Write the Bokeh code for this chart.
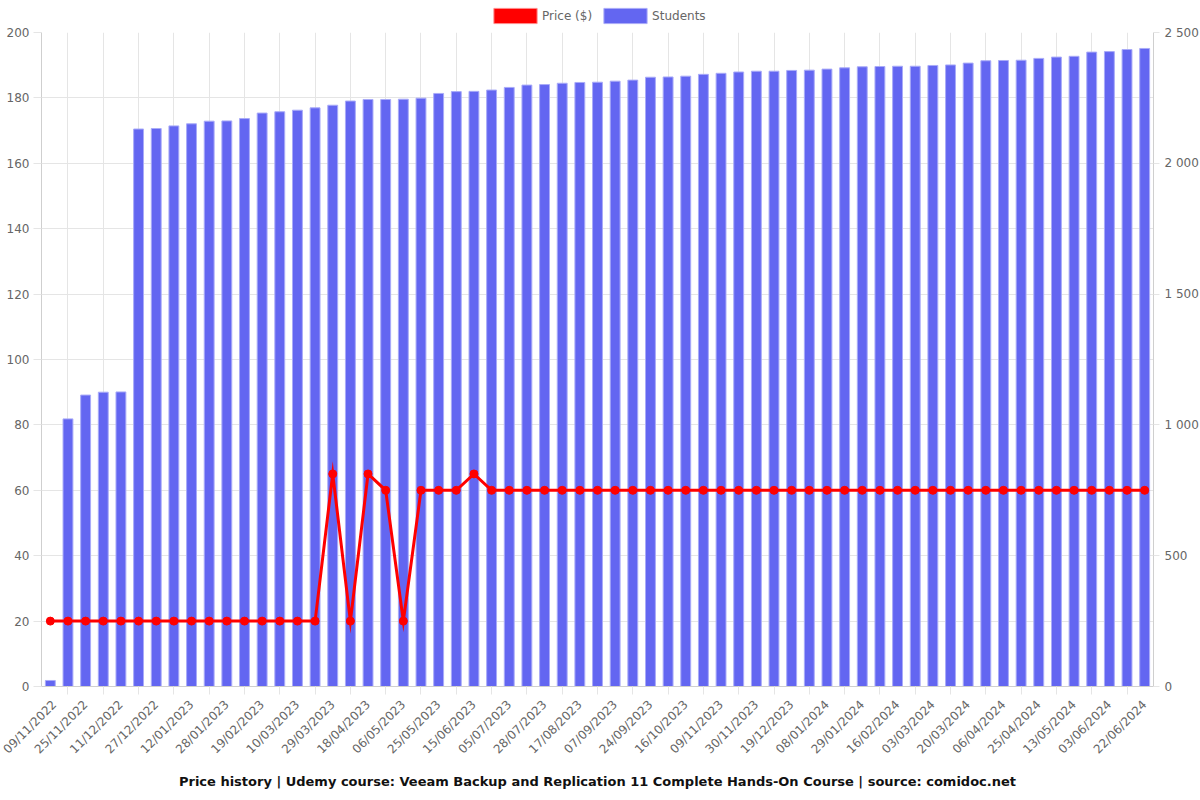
import math
from bokeh.plotting import figure
from bokeh.layouts import column
from bokeh.models import (Range1d, LinearAxis, FixedTicker, Legend, LegendItem,
                          Title, ColumnDataSource)
from bokeh.embed import file_html
from bokeh.resources import INLINE

# Visible date labels (every second category)
tick_labels = [
    "09/11/2022", "25/11/2022", "11/12/2022", "27/12/2022", "12/01/2023", "28/01/2023",
    "19/02/2023", "10/03/2023", "29/03/2023", "18/04/2023", "06/05/2023", "25/05/2023",
    "15/06/2023", "05/07/2023", "28/07/2023", "17/08/2023", "07/09/2023", "24/09/2023",
    "16/10/2023", "09/11/2023", "30/11/2023", "19/12/2023", "08/01/2024", "29/01/2024",
    "16/02/2024", "03/03/2024", "20/03/2024", "06/04/2024", "25/04/2024", "13/05/2024",
    "03/06/2024", "22/06/2024",
]

students = [
    23, 1023, 1114, 1125, 1126,
    2131, 2133, 2143, 2151, 2161, 2162, 2171,
    2192, 2197, 2203, 2212, 2222, 2238, 2244, 2244, 2245,
    2249, 2267, 2274, 2275, 2280, 2290, 2299, 2301, 2306, 2309, 2310,
    2314, 2318, 2329, 2330, 2333, 2340, 2344, 2349, 2352, 2352, 2355,
    2356, 2360, 2365, 2369, 2370, 2371, 2371, 2374, 2376, 2383,
    2392, 2393, 2394, 2401, 2406, 2409, 2425, 2427, 2435, 2439,
]

price = [
    20, 20, 20, 20, 20, 20, 20, 20, 20, 20, 20, 20, 20, 20, 20, 20,
    65, 20, 65, 60, 20, 60, 60, 60, 65,
    60, 60, 60, 60, 60, 60, 60, 60, 60, 60, 60, 60, 60, 60, 60, 60, 60, 60, 60,
    60, 60, 60, 60, 60, 60, 60, 60, 60, 60, 60, 60, 60, 60, 60, 60, 60, 60, 60,
]

left_ticks = list(range(0, 201, 20))
right_ticks = list(range(0, 2501, 500))

n = len(students)
idx = list(range(n))
label_pos = idx[0::2]
odd_pos = idx[1::2]

FONT = "DejaVu Sans"
GRID = "#e5e5e5"
AXIS = "#cfcfcf"
TXT = "#666666"
BAR = "#6366f1"
BAR_EDGE = "#a9abf8"
RED = "#ff0000"

src = ColumnDataSource(data=dict(x=idx, students=students, price=price))

p = figure(frame_width=1112, frame_height=654, output_backend="svg", toolbar_location=None,
           x_range=Range1d(-0.5, n - 0.5), y_range=Range1d(0, 200),
           min_border_left=41, min_border_right=47, min_border_top=7,
           min_border_bottom=114)
p.outline_line_color = None
p.extra_y_ranges = {"students": Range1d(0, 2500)}

bars = p.vbar(x="x", top="students", width=0.56, source=src, y_range_name="students",
              fill_color=BAR, line_color=BAR_EDGE, line_width=1)
p.line(x="x", y="price", source=src, line_color=RED, line_width=3, line_join="miter")
p.scatter(x="x", y="price", source=src, size=8, fill_color=RED, line_color=RED)

# x axis
xa = p.xaxis[0]
xa.ticker = FixedTicker(ticks=label_pos, minor_ticks=odd_pos)
xa.major_label_overrides = {i: tick_labels[k] for k, i in enumerate(label_pos)}
xa.major_label_orientation = math.pi / 4
xa.major_tick_line_color = None
xa.minor_tick_line_color = GRID
xa.minor_tick_in = 0
xa.minor_tick_out = 8
xa.axis_line_color = AXIS
xa.major_label_text_font = FONT
xa.major_label_text_font_size = "12px"
xa.major_label_text_color = TXT
xa.major_label_standoff = 8

p.xgrid.ticker = FixedTicker(ticks=odd_pos)
p.xgrid.grid_line_color = GRID

# left axis
ya = p.yaxis[0]
ya.ticker = FixedTicker(ticks=left_ticks)
ya.major_tick_in = 0
ya.major_tick_out = 8
ya.major_tick_line_color = GRID
ya.minor_tick_line_color = None
ya.axis_line_color = AXIS
ya.major_label_text_font = FONT
ya.major_label_text_font_size = "12px"
ya.major_label_text_color = TXT
ya.major_label_standoff = 4
p.ygrid.ticker = FixedTicker(ticks=left_ticks)
p.ygrid.grid_line_color = GRID

# right axis
ra = LinearAxis(y_range_name="students", ticker=FixedTicker(ticks=right_ticks))
ra.major_label_overrides = {v: f"{v:,}".replace(",", " ") for v in right_ticks}
ra.major_tick_in = 0
ra.major_tick_out = 6
ra.major_tick_line_color = GRID
ra.minor_tick_line_color = None
ra.axis_line_color = AXIS
ra.major_label_text_font = FONT
ra.major_label_text_font_size = "12px"
ra.major_label_text_color = TXT
ra.major_label_standoff = 5
p.add_layout(ra, "right")

title = Title(text="Price history | Udemy course: Veeam Backup and Replication 11 Complete Hands-On Course | source: comidoc.net",
              align="center", text_font=FONT, text_font_size="13px",
              text_font_style="bold", text_color="#111111", standoff=15)
p.add_layout(title, "below")

# Legend strip above the chart (its frame is aligned with the chart frame)
lg = figure(width=1200, height=25, output_backend="svg", toolbar_location=None,
            x_range=Range1d(0, 1), y_range=Range1d(0, 1),
            x_axis_location=None, y_axis_location=None,
            min_border_left=0, min_border_right=0, min_border_top=0, min_border_bottom=0)
lg.grid.visible = False
lg.outline_line_color = None
r_price = lg.vbar(x=[0.5], top=[float("nan")], width=0.1, fill_color=RED,
                  line_color="#ff8a8a", line_width=1)
r_stud = lg.vbar(x=[0.5], top=[float("nan")], width=0.1, fill_color=BAR,
                 line_color=BAR_EDGE, line_width=1)
legend = Legend(items=[LegendItem(label="Price ($)", renderers=[r_price]),
                       LegendItem(label="Students", renderers=[r_stud])],
                orientation="horizontal", location=(447, 0),
                border_line_color=None, background_fill_alpha=0,
                glyph_width=54, glyph_height=19, label_height=19,
                label_standoff=0, spacing=6, padding=0, margin=0,
                label_text_font=FONT, label_text_font_size="12px",
                label_text_color=TXT)
lg.add_layout(legend, "center")

layout = column(lg, p, spacing=0)
open("out.html", "w").write(file_html(layout, INLINE))
